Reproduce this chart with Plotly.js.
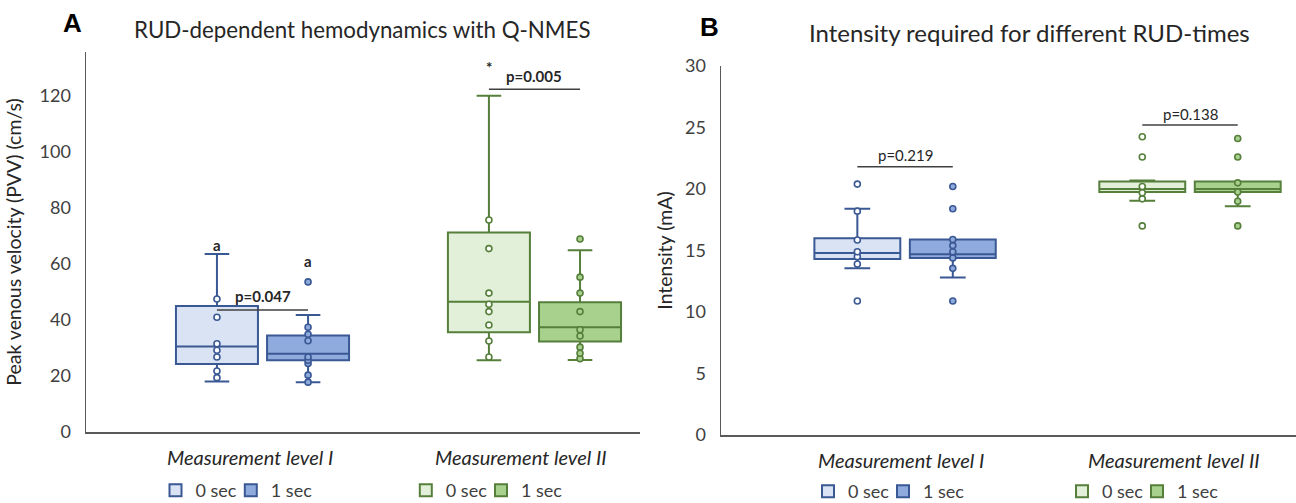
<!DOCTYPE html>
<html>
<head>
<meta charset="utf-8">
<script src="https://cdn.plot.ly/plotly-3.0.1.min.js"></script>
<style>
  html, body { margin: 0; padding: 0; background: #ffffff; }
  #chart { width: 1296px; height: 503px; }
</style>
</head>
<body>
<div id="chart"></div>
<script>
// ---------- data ----------
const categories = ['Measurement level I', 'Measurement level II'];
const seriesNames = ['0 sec', '1 sec'];

// Panel A: Peak venous velocity (cm/s) – [level I, level II]
const pvvLower0  = [18.0, 25.6];
const pvvQ1_0    = [24.3, 35.6];
const pvvMedian0 = [30.5, 46.5];
const pvvQ3_0    = [45.0, 71.2];
const pvvUpper0  = [63.6, 120.1];
const pvvPoints0 = [
  [47.5, 41.0, 31.5, 29.2, 26.8, 21.8, 19.4],
  [75.7, 65.5, 49.6, 45.6, 43.0, 38.2, 32.5, 26.8]
];
const pvvLower1  = [17.8, 25.7];
const pvvQ1_1    = [25.6, 32.3];
const pvvMedian1 = [27.9, 37.4];
const pvvQ3_1    = [34.5, 46.3];
const pvvUpper1  = [41.8, 64.9];
const pvvPoints1 = [
  [53.6, 37.4, 34.9, 32.6, 26.8, 25.6, 24.5, 20.3, 17.8],
  [68.9, 55.3, 49.6, 43.0, 36.5, 34.3, 30.3, 28.1, 26.2]
];

// Panel B: Intensity (mA) – [level I, level II]
const intLower0  = [13.55, 19.05];
const intQ1_0    = [14.3, 19.75];
const intMedian0 = [14.8, 20.0];
const intQ3_0    = [16.0, 20.6];
const intUpper0  = [18.4, 20.7];
const intPoints0 = [
  [20.4, 18.2, 15.85, 14.9, 14.5, 13.9, 10.9],
  [24.25, 22.6, 20.2, 19.7, 19.2, 17.0]
];
const intLower1  = [12.8, 18.6];
const intQ1_1    = [14.4, 19.75];
const intMedian1 = [14.7, 20.0];
const intQ3_1    = [15.9, 20.6];
const intUpper1  = [15.9, 20.6];
const intPoints1 = [
  [20.2, 18.4, 15.9, 15.4, 14.9, 14.4, 13.55, 10.9],
  [24.1, 22.6, 20.5, 19.75, 19.0, 17.0]
];

// significance labels
const pvvPLabels = ['p=0.047', 'p=0.005'];
const pvvPBarY   = [43.6, 122.4];
const pvvPTextY  = [48.6, 127.0];
const pvvLetterLabels = ['a', 'a'];     // above level I boxes
const pvvLetterY = [66.8, 61.0];
const pvvStarY = 130.5;                 // above level II 0 sec
const intPLabels = ['p=0.219', 'p=0.138'];
const intPBarY   = [21.8, 25.2];
const intPTextY  = [22.8, 26.1];

// ---------- styling ----------
const FONT = 'Lato, "Open Sans", "Liberation Sans", sans-serif';
const W = 1296, H = 503;
const BOXGAP = 0.33, BOXGROUPGAP = 0.1;
const OFF = 0.25 * (1 - BOXGAP);   // centre offset of each box from category centre

const colors = {
  I:  {line: '#3a5894', fill: ['#dae3f3', '#8faadc']},
  II: {line: '#557f3a', fill: ['#e2f0d9', '#a9d18e']}
};

function px2paperX(p) { return p / W; }
function px2paperY(p) { return (H - p) / H; }

function makeBox(panel, levelIdx, s, stats, legendId) {
  const lv = levelIdx === 0 ? colors.I : colors.II;
  return {
    type: 'box',
    name: seriesNames[s],
    x: [categories[levelIdx]],
    y: [stats.pts[levelIdx]],
    q1: [stats.q1[levelIdx]],
    median: [stats.med[levelIdx]],
    q3: [stats.q3[levelIdx]],
    lowerfence: [stats.lo[levelIdx]],
    upperfence: [stats.up[levelIdx]],
    boxpoints: 'all', jitter: 0, pointpos: 0,
    whiskerwidth: 0.3,
    fillcolor: lv.fill[s],
    line: {color: lv.line, width: 2},
    marker: {symbol: 'circle', size: 6, color: s === 0 ? '#ffffff' : lv.fill[s],
             line: {color: lv.line, width: 1.6}},
    offsetgroup: String(s),
    alignmentgroup: panel,
    xaxis: panel === 'A' ? 'x' : 'x2',
    yaxis: panel === 'A' ? 'y' : 'y2',
    legend: legendId,
    hoverinfo: 'y'
  };
}

const pvvStats = [
  {q1: pvvQ1_0, med: pvvMedian0, q3: pvvQ3_0, lo: pvvLower0, up: pvvUpper0, pts: pvvPoints0},
  {q1: pvvQ1_1, med: pvvMedian1, q3: pvvQ3_1, lo: pvvLower1, up: pvvUpper1, pts: pvvPoints1}
];
const intStats = [
  {q1: intQ1_0, med: intMedian0, q3: intQ3_0, lo: intLower0, up: intUpper0, pts: intPoints0},
  {q1: intQ1_1, med: intMedian1, q3: intQ3_1, lo: intLower1, up: intUpper1, pts: intPoints1}
];

// one legend per entry so each sits under its own group
const legendSquareX = {A: [[176.5, 251.8], [426.8, 502.0]], B: [[829, 904], [1083, 1158]]};
const legendRowY = {A: 490.5, B: 491.5};
const data = [];
const legendDefs = {};
let legendCount = 0;
['A', 'B'].forEach(panel => {
  const st = panel === 'A' ? pvvStats : intStats;
  [0, 1].forEach(lvl => {
    [0, 1].forEach(s => {
      legendCount += 1;
      const id = legendCount === 1 ? 'legend' : 'legend' + legendCount;
      legendDefs[id] = {sq: legendSquareX[panel][lvl][s], y: legendRowY[panel]};
      data.push(makeBox(panel, lvl, s, st[s], id));
    });
  });
});

// ---------- annotations & shapes ----------
const annotations = [];
const shapes = [];

// panel letters and titles
annotations.push({text: '<b>A</b>', xref: 'paper', yref: 'paper', x: px2paperX(72), y: px2paperY(23),
  showarrow: false, xanchor: 'center', yanchor: 'middle', font: {family: 'Liberation Sans, Arial, sans-serif', size: 26, color: '#000'}});
annotations.push({text: '<b>B</b>', xref: 'paper', yref: 'paper', x: px2paperX(709), y: px2paperY(27),
  showarrow: false, xanchor: 'center', yanchor: 'middle', font: {family: 'Liberation Sans, Arial, sans-serif', size: 26, color: '#000'}});
annotations.push({text: 'RUD-dependent hemodynamics with Q-NMES', xref: 'paper', yref: 'paper',
  x: px2paperX(362), y: px2paperY(30), showarrow: false, xanchor: 'center', yanchor: 'middle',
  font: {family: FONT, size: 22.3, color: '#262626'}});
annotations.push({text: 'Intensity required for different RUD-times', xref: 'paper', yref: 'paper',
  x: px2paperX(1029), y: px2paperY(33), showarrow: false, xanchor: 'center', yanchor: 'middle',
  font: {family: FONT, size: 24, color: '#262626'}});

// category labels
[['x', -13, 457], ['x2', -4, 460]].forEach(([xr, shift, ypx], pi) => {
  categories.forEach((c, i) => {
    annotations.push({text: c, xref: xr, yref: 'paper', x: c, y: px2paperY(ypx),
      xshift: (pi === 1 && i === 1) ? -16 : shift,
      showarrow: false, xanchor: 'center', yanchor: 'middle',
      font: {family: FONT, size: 20, color: '#262626', style: 'italic'}});
  });
});

// significance bars
function sigBar(xr, yr, catIdx, yBar, yText, label, bold, size) {
  shapes.push({type: 'line', xref: xr, yref: yr, x0: catIdx - OFF, x1: catIdx + OFF, y0: yBar, y1: yBar,
    line: {color: '#404040', width: 1.5}});
  annotations.push({text: bold ? '<b>' + label + '</b>' : label, xref: xr, yref: yr, x: catIdx, y: yText,
    showarrow: false, xanchor: 'center', yanchor: 'middle', font: {family: FONT, size: size, color: '#262626'}});
}
sigBar('x', 'y', 0, pvvPBarY[0], pvvPTextY[0], pvvPLabels[0], true, 15);
sigBar('x', 'y', 1, pvvPBarY[1], pvvPTextY[1], pvvPLabels[1], true, 15);
sigBar('x2', 'y2', 0, intPBarY[0], intPTextY[0], intPLabels[0], false, 15);
sigBar('x2', 'y2', 1, intPBarY[1], intPTextY[1], intPLabels[1], false, 15);

pvvLetterLabels.forEach((t, s) => {
  annotations.push({text: '<b>' + t + '</b>', xref: 'x', yref: 'y', x: 0 + (s === 0 ? -OFF : OFF), y: pvvLetterY[s],
    showarrow: false, xanchor: 'center', yanchor: 'middle', font: {family: FONT, size: 15, color: '#262626'}});
});
annotations.push({text: '<b>*</b>', xref: 'x', yref: 'y', x: 1 - OFF, y: pvvStarY,
  showarrow: false, xanchor: 'center', yanchor: 'middle', font: {family: FONT, size: 15, color: '#262626'}});

// ---------- layout ----------
const axisLine = '#595959';
function yAxis(domain, range, dtick, title, standoff, anchor) {
  return {
    domain: domain, range: range, dtick: dtick, tick0: 0, anchor: anchor,
    showgrid: false, zeroline: false, showline: true, linecolor: axisLine, linewidth: 1.5,
    ticks: '', ticklabelstandoff: 10,
    tickfont: {family: FONT, size: 18, color: '#404040'},
    title: {text: title, font: {family: FONT, size: 19.5, color: '#262626'}, standoff: standoff},
    fixedrange: true
  };
}
function xAxis(domain, range, anchor) {
  return {
    domain: domain, range: range, type: 'category', categoryarray: categories, categoryorder: 'array',
    anchor: anchor, showgrid: false, zeroline: false, showline: true, linecolor: axisLine, linewidth: 1.5,
    ticks: '', showticklabels: false, fixedrange: true
  };
}
function legendAt(sqCenterPx, ypx) {
  return {x: px2paperX(sqCenterPx - 21), y: px2paperY(ypx), xanchor: 'left', yanchor: 'middle', orientation: 'h',
    bgcolor: 'rgba(0,0,0,0)', borderwidth: 0,
    font: {family: FONT, size: 18, color: '#404040'}, itemclick: false, itemdoubleclick: false};
}

const layout = {
  width: W, height: H,
  margin: {l: 0, r: 0, t: 0, b: 0, autoexpand: false},
  paper_bgcolor: '#ffffff', plot_bgcolor: '#ffffff',
  boxmode: 'group', boxgap: BOXGAP, boxgroupgap: BOXGROUPGAP,
  showlegend: true,
  xaxis: xAxis([86 / W, 640 / W], [-0.649, 1.388], 'y'),
  yaxis: yAxis([px2paperY(432), px2paperY(52)], [0, 135.7], 20, 'Peak venous velocity (PVV) (cm/s)', 12, 'x'),
  xaxis2: xAxis([721 / W, 1], [-0.646, 1.372], 'y2'),
  yaxis2: yAxis([px2paperY(435), px2paperY(66)], [0, 30], 5, 'Intensity (mA)', 7, 'x2'),
  annotations: annotations,
  shapes: shapes,
  font: {family: FONT, color: '#404040'}
};
Object.keys(legendDefs).forEach(id => {
  layout[id] = legendAt(legendDefs[id].sq, legendDefs[id].y);
});

Plotly.newPlot('chart', data, layout, {displayModeBar: false, staticPlot: true});
</script>
</body>
</html>
